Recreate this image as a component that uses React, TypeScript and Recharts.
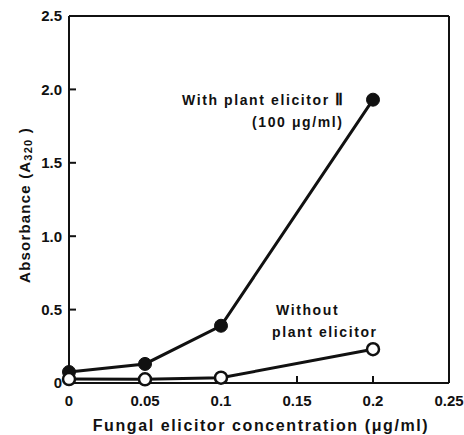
import {
  LineChart,
  Line,
  XAxis,
  YAxis,
  ReferenceLine,
} from "recharts";

const concentration = [0, 0.05, 0.1, 0.2];
const withPlantElicitor = [0.075, 0.13, 0.39, 1.93];
const withoutPlantElicitor = [0.027, 0.025, 0.036, 0.23];

const xTicks = [0, 0.05, 0.1, 0.15, 0.2, 0.25];
const yTicks = [0, 0.5, 1, 1.5, 2, 2.5];
const xTickLabels = ["0", "0.05", "0.1", "0.15", "0.2", "0.25"];
const yTickLabels = ["0", "0.5", "1.0", "1.5", "2.0", "2.5"];

const data = concentration.map((c, i) => ({
  conc: c,
  withPlant: withPlantElicitor[i],
  without: withoutPlantElicitor[i],
}));

const font = "'Liberation Sans', Arial, sans-serif";
const tickStyle = { fontFamily: font, fontWeight: 700, fontSize: 15, fill: "#111" };

const YLabel = () => (
  <text
    x={24}
    y={205}
    transform="rotate(-90 24 205)"
    textAnchor="middle"
    dominantBaseline="central"
    style={{ fontFamily: font, fontWeight: 700, fontSize: 15, letterSpacing: 1.2 }}
    fill="#111"
  >
    Absorbance (A
    <tspan fontSize={11} dy={4}>320</tspan>
    <tspan dy={-4}> )</tspan>
  </text>
);

const noteStyle: React.CSSProperties = {
  position: "absolute",
  fontFamily: font,
  fontWeight: 700,
  fontSize: 14,
  color: "#111",
  whiteSpace: "nowrap",
  letterSpacing: 1.6,
  lineHeight: "16px",
};

export default function App() {
  return (
    <div style={{ position: "absolute", left: 0, top: 0, width: 464, height: 435, background: "#fff" }}>
      <LineChart
        width={464}
        height={435}
        data={data}
        margin={{ top: 16, right: 15, left: 19, bottom: 22 }}
      >
        <XAxis
          dataKey="conc"
          type="number"
          domain={[0, 0.25]}
          ticks={xTicks}
          tickFormatter={(v: number) => xTickLabels[xTicks.indexOf(v)] ?? String(v)}
          stroke="#111"
          strokeWidth={2}
          tickSize={-7}
          tickMargin={19}
          tick={tickStyle}
          height={30}
          interval={0}
        />
        <YAxis
          type="number"
          domain={[0, 2.5]}
          ticks={yTicks}
          tickFormatter={(v: number) => yTickLabels[yTicks.indexOf(v)] ?? String(v)}
          stroke="#111"
          strokeWidth={2}
          tickSize={-7}
          tickMargin={14}
          tick={tickStyle}
          width={50}
          interval={0}
          label={<YLabel />}
        />
        <ReferenceLine y={2.5} stroke="#111" strokeWidth={2} />
        <ReferenceLine x={0.25} stroke="#111" strokeWidth={2} />
        <Line
          dataKey="withPlant"
          stroke="#111"
          strokeWidth={3}
          dot={{ r: 6.5, fill: "#111", stroke: "#111", strokeWidth: 1 }}
          isAnimationActive={false}
        />
        <Line
          dataKey="without"
          stroke="#111"
          strokeWidth={3}
          dot={{ r: 6, fill: "#fff", stroke: "#111", strokeWidth: 2.5 }}
          isAnimationActive={false}
        />
      </LineChart>
      <div style={{ ...noteStyle, left: 182, top: 92 }}>
        With plant elicitor <span style={{ fontFamily: "'Liberation Serif', serif", fontSize: 16 }}>Ⅱ</span>
      </div>
      <div style={{ ...noteStyle, left: 252, top: 114 }}>(100 μg/ml)</div>
      <div style={{ ...noteStyle, left: 276, top: 302 }}>Without</div>
      <div style={{ ...noteStyle, left: 272, top: 324 }}>plant elicitor</div>
      <div
        style={{
          position: "absolute",
          left: 0,
          width: 522,
          top: 417,
          textAlign: "center",
          fontFamily: font,
          fontWeight: 700,
          fontSize: 16,
          letterSpacing: 1.6,
          color: "#111",
        }}
      >
        Fungal elicitor concentration (μg/ml)
      </div>
    </div>
  );
}
